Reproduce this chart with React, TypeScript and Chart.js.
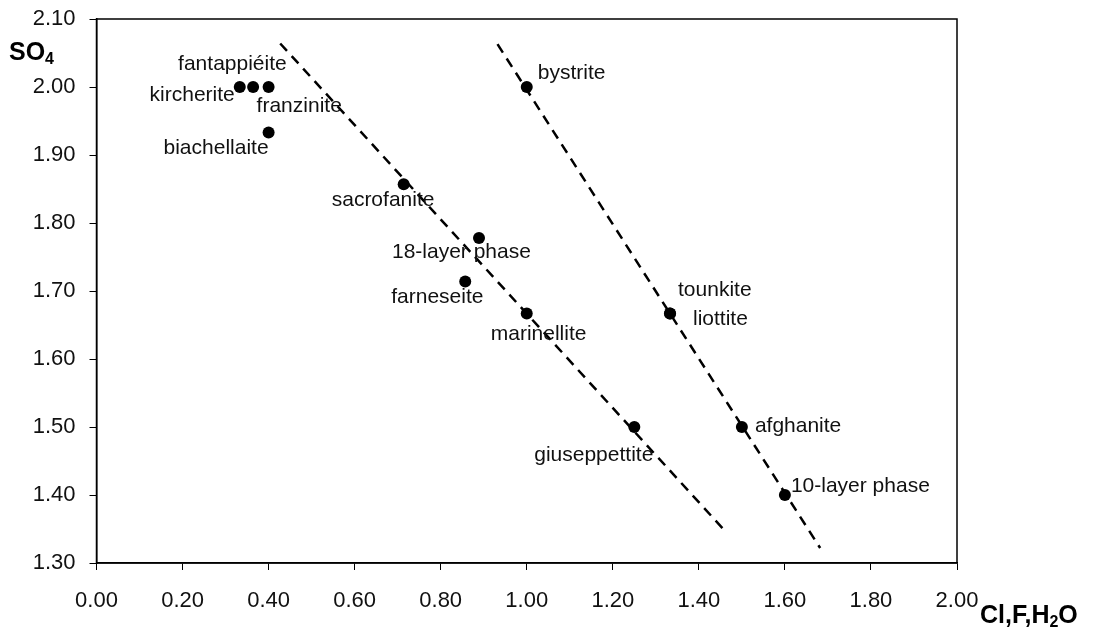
import React, { useEffect, useRef } from "react";
import { Chart, registerables } from "chart.js";

Chart.register(...registerables);

// ---- data ----
const mineralNames = [
  "kircherite",
  "fantappiéite",
  "franzinite",
  "biachellaite",
  "sacrofanite",
  "18-layer phase",
  "farneseite",
  "marinellite",
  "giuseppettite",
  "bystrite",
  "tounkite",
  "liottite",
  "afghanite",
  "10-layer phase",
];
const clFH2O = [0.333, 0.364, 0.4, 0.4, 0.714, 0.889, 0.857, 1.0, 1.25, 1.0, 1.333, 1.333, 1.5, 1.6];
const so4 = [2.0, 2.0, 2.0, 1.933, 1.857, 1.778, 1.714, 1.667, 1.5, 2.0, 1.667, 1.667, 1.5, 1.4];

const trend1X = [0.427, 1.461];
const trend1Y = [2.064, 1.347];
const trend2X = [0.932, 1.682];
const trend2Y = [2.063, 1.322];

const xTickMin = 0;
const xTickMax = 2;
const xTickStep = 0.2;
const yTickMin = 1.3;
const yTickMax = 2.1;
const yTickStep = 0.1;

// ---- label styling (pixel offsets from each point) ----
const labelStyles: { dx: number; dy: number; align: CanvasTextAlign }[] = [
  { dx: -5, dy: 14, align: "right" },   // kircherite
  { dx: -75, dy: -17, align: "left" },  // fantappiéite (middle point)
  { dx: -12, dy: 25, align: "left" },   // franzinite
  { dx: 0, dy: 21, align: "right" },    // biachellaite
  { dx: -72, dy: 22, align: "left" },   // sacrofanite
  { dx: -87, dy: 20, align: "left" },   // 18-layer phase
  { dx: -74, dy: 22, align: "left" },   // farneseite
  { dx: -36, dy: 27, align: "left" },   // marinellite
  { dx: 19, dy: 34, align: "right" },   // giuseppettite
  { dx: 11, dy: -8, align: "left" },    // bystrite
  { dx: 8, dy: -17, align: "left" },    // tounkite
  { dx: 23, dy: 12, align: "left" },    // liottite
  { dx: 13, dy: 5, align: "left" },     // afghanite
  { dx: 6, dy: -3, align: "left" },     // 10-layer phase
];

const FONT = "'Liberation Sans', Arial, sans-serif";

const labelPlugin = {
  id: "mineralLabels",
  afterDatasetsDraw(chart: any) {
    const { ctx, scales, chartArea } = chart;
    const xs = scales.x;
    const ys = scales.y;
    ctx.save();
    // frame
    ctx.strokeStyle = "#000";
    ctx.lineWidth = 1.5;
    ctx.strokeRect(chartArea.left, chartArea.top, chartArea.right - chartArea.left, chartArea.bottom - chartArea.top);
    // point labels
    ctx.fillStyle = "#111";
    ctx.font = `21px ${FONT}`;
    ctx.textBaseline = "alphabetic";
    mineralNames.forEach((name, i) => {
      const px = xs.getPixelForValue(clFH2O[i]);
      const py = ys.getPixelForValue(so4[i]);
      const st = labelStyles[i];
      ctx.textAlign = st.align;
      ctx.fillText(name, px + st.dx, py + st.dy);
    });
    // axis titles
    ctx.fillStyle = "#000";
    ctx.textAlign = "left";
    ctx.font = `bold 25px ${FONT}`;
    ctx.fillText("SO", 9, 60);
    const soW = ctx.measureText("SO").width;
    ctx.font = `bold 16px ${FONT}`;
    ctx.fillText("4", 9 + soW, 64);

    let x = 980;
    const base = 623;
    ctx.font = `bold 25px ${FONT}`;
    ctx.fillText("Cl,F,H", x, base);
    x += ctx.measureText("Cl,F,H").width;
    ctx.font = `bold 16px ${FONT}`;
    ctx.fillText("2", x, base + 4);
    x += ctx.measureText("2").width;
    ctx.font = `bold 25px ${FONT}`;
    ctx.fillText("O", x, base);
    ctx.restore();
  },
};

export default function App() {
  const canvasRef = useRef<HTMLCanvasElement | null>(null);

  useEffect(() => {
    if (!canvasRef.current) return;
    const points = clFH2O.map((v, i) => ({ x: v, y: so4[i] }));
    const line1 = trend1X.map((v, i) => ({ x: v, y: trend1Y[i] }));
    const line2 = trend2X.map((v, i) => ({ x: v, y: trend2Y[i] }));

    const chart = new Chart(canvasRef.current, {
      type: "scatter",
      data: {
        datasets: [
          {
            label: "trend 1",
            data: line1,
            showLine: true,
            borderColor: "#000",
            borderWidth: 2.5,
            borderDash: [10, 7],
            pointRadius: 0,
            fill: false,
          },
          {
            label: "trend 2",
            data: line2,
            showLine: true,
            borderColor: "#000",
            borderWidth: 2.5,
            borderDash: [10, 7],
            pointRadius: 0,
            fill: false,
          },
          {
            label: "minerals",
            data: points,
            pointRadius: 6,
            pointBackgroundColor: "#000",
            pointBorderColor: "#000",
            pointBorderWidth: 0,
          },
        ],
      },
      options: {
        animation: false,
        responsive: true,
        maintainAspectRatio: false,
        layout: { padding: { left: 0, right: 143, top: 19, bottom: 0 } },
        plugins: {
          legend: { display: false },
          tooltip: { enabled: false },
          title: { display: false },
        },
        scales: {
          x: {
            type: "linear",
            min: xTickMin,
            max: xTickMax,
            afterFit: (scale: any) => {
              scale.height = 70;
              scale.paddingLeft = 0;
              scale.paddingRight = 0;
            },
            ticks: {
              stepSize: xTickStep,
              color: "#111",
              font: { family: FONT, size: 22 },
              padding: 18,
              maxRotation: 0,
              callback: (v: any) => Number(v).toFixed(2),
            },
            grid: {
              display: true,
              drawOnChartArea: false,
              drawTicks: true,
              tickLength: 7,
              color: "#000",
            },
            border: { display: true, color: "#000", width: 1.5 },
          },
          y: {
            type: "linear",
            min: yTickMin,
            max: yTickMax,
            afterFit: (scale: any) => {
              scale.width = 96.5;
              scale.paddingTop = 0;
              scale.paddingBottom = 0;
            },
            ticks: {
              stepSize: yTickStep,
              color: "#111",
              font: { family: FONT, size: 22 },
              padding: 14,
              callback: (v: any) => Number(v).toFixed(2),
            },
            grid: {
              display: true,
              drawOnChartArea: false,
              drawTicks: true,
              tickLength: 7,
              color: "#000",
            },
            border: { display: true, color: "#000", width: 1.5 },
          },
        },
      },
      plugins: [labelPlugin],
    });
    return () => chart.destroy();
  }, []);

  return (
    <div style={{ position: "fixed", left: 0, top: 0, width: 1100, height: 633, background: "#fff" }}>
      <canvas ref={canvasRef} />
    </div>
  );
}
